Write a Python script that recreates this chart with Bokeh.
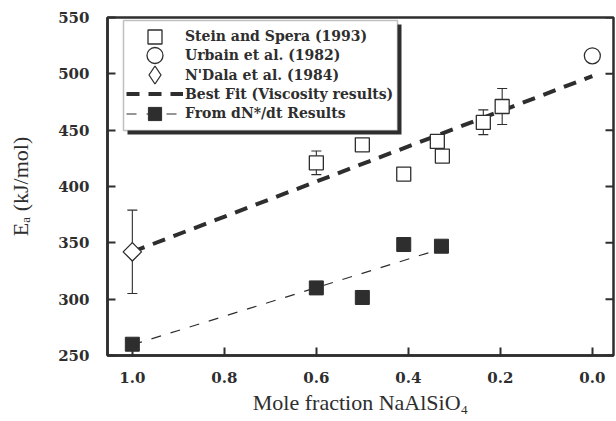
import numpy as np
from bokeh.plotting import figure
from bokeh.models import (Range1d, FixedTicker, Legend, LegendItem,
                          ColumnDataSource, Whisker, TeeHead, BoxAnnotation,
                          PrintfTickFormatter)
from bokeh.embed import file_html
from bokeh.resources import INLINE

# --- data -------------------------------------------------------------------
# Stein and Spera (1993): viscosity activation energies (kJ/mol)
stein_x = [0.60, 0.50, 0.41, 0.337, 0.326, 0.237, 0.196]
stein_y = [421, 437, 411, 440, 427, 457, 471]
stein_err = [10.5, 0, 0, 0, 0, 11, 16]

# Urbain et al. (1982)
urbain_x = [0.0]
urbain_y = [516]

# N'Dala et al. (1984)
ndala_x = [1.0]
ndala_y = [342]
ndala_err = [37]

# activation energies from dN*/dt results
dn_x = [1.0, 0.60, 0.50, 0.41, 0.328]
dn_y = [260, 310, 301.5, 348.5, 347]

# linear fits
fit_visc_x = [1.0, 0.0]
fit_visc_y = [342, 498]
fit_dn_x = [1.0, 0.33]
fit_dn_y = [259.5, 344.5]

x_ticks = [0.0, 0.2, 0.4, 0.6, 0.8, 1.0]
y_ticks = [250, 300, 350, 400, 450, 500, 550]

legend_labels = ["Stein and Spera (1993)", "Urbain et al. (1982)",
                 "N'Dala et al. (1984)", "Best Fit (Viscosity results)",
                 "From dN*/dt Results"]

INK = "#2e2e2e"
TICK_FONT = "DejaVu Serif"
LABEL_FONT = "Liberation Serif"

X_START, X_END = 1.054, -0.046

# --- figure -----------------------------------------------------------------
p = figure(width=616, height=421,
           x_range=Range1d(X_START, X_END), y_range=Range1d(250, 550),
           output_backend="svg", toolbar_location=None,
           min_border_left=107, min_border_right=3,
           min_border_top=17, min_border_bottom=66)
p.xgrid.visible = False
p.ygrid.visible = False
p.outline_line_color = INK
p.outline_line_width = 2.5
p.background_fill_color = "white"
p.border_fill_color = "white"

def style_axis(ax, ticks):
    ax.ticker = FixedTicker(ticks=ticks)
    ax.axis_line_color = INK
    ax.axis_line_width = 2.5
    ax.major_tick_line_color = INK
    ax.major_tick_line_width = 2
    ax.major_tick_in = 8
    ax.major_tick_out = 0
    ax.minor_tick_line_color = None
    ax.major_label_text_font = TICK_FONT
    ax.major_label_text_font_style = "bold"
    ax.major_label_text_font_size = "15px"
    ax.major_label_text_color = INK
    ax.axis_label_text_font = LABEL_FONT
    ax.axis_label_text_font_style = "normal"
    ax.axis_label_text_font_size = "22px"
    ax.axis_label_text_color = INK

xa = p.xaxis[0]
style_axis(xa, x_ticks)
xa.formatter = PrintfTickFormatter(format="%.1f")
xa.major_label_standoff = 16
xa.axis_label = "Mole fraction NaAlSiO\u2084"
xa.axis_label_standoff = 4

ya = p.yaxis[0]
style_axis(ya, y_ticks)
ya.major_label_standoff = 18
ya.axis_label = "E\u2090 (kJ/mol)"
ya.axis_label_standoff = 22

# inward tick marks along the right edge of the frame
p.ray(x=[X_END] * len(y_ticks), y=y_ticks, length=8, length_units="screen",
      angle=np.pi, line_color=INK, line_width=2)

# --- error bars ---------------------------------------------------------------
eb_x = [x for x, e in zip(stein_x, stein_err) if e > 0] + ndala_x
eb_y = [y for y, e in zip(stein_y, stein_err) if e > 0] + ndala_y
eb_e = [e for e in stein_err if e > 0] + ndala_err
err_src = ColumnDataSource(dict(
    base=eb_x,
    upper=[y + e for y, e in zip(eb_y, eb_e)],
    lower=[y - e for y, e in zip(eb_y, eb_e)],
))
p.add_layout(Whisker(source=err_src, base="base", upper="upper", lower="lower",
                     dimension="height", level="underlay",
                     line_color=INK, line_width=1.1,
                     upper_head=TeeHead(size=10, line_color=INK, line_width=1.1),
                     lower_head=TeeHead(size=10, line_color=INK, line_width=1.1)))

# --- fit lines ----------------------------------------------------------------
fit_r = p.line(fit_visc_x, fit_visc_y, line_color=INK, line_width=4,
               line_dash="13 9")
dn_line_r = p.line(fit_dn_x, fit_dn_y, line_color=INK, line_width=1.2,
                   line_dash="10 10")

# --- markers ------------------------------------------------------------------
stein_r = p.scatter(stein_x, stein_y, marker="square", size=14,
                    fill_color="white", line_color=INK, line_width=1.3)
urbain_r = p.scatter(urbain_x, urbain_y, marker="circle", size=16,
                     fill_color="white", line_color=INK, line_width=1.3)
ndala_r = p.scatter(ndala_x, ndala_y, marker="diamond", size=18,
                    fill_color="white", line_color=INK, line_width=1.3)
p.scatter(ndala_x, ndala_y, marker="square", size=13, angle=np.pi / 4,
          fill_color="white", line_color=INK, line_width=1.3)
dn_r = p.scatter(dn_x, dn_y, marker="square", size=14,
                 fill_color=INK, line_color=INK, line_width=1)

# --- legend panel: drop shadow, white box, then one row per entry -------------
def canvas_box(l, r, t, b, **kw):
    return BoxAnnotation(left=l, right=r, top=t, bottom=b,
                         left_units="canvas", right_units="canvas",
                         top_units="canvas", bottom_units="canvas",
                         level="annotation", **kw)

p.add_layout(canvas_box(127, 401, 24, 134, fill_color=INK, fill_alpha=1.0,
                        line_color=None))
p.add_layout(canvas_box(123, 397, 20, 130, fill_color="white", fill_alpha=1.0,
                        line_color=INK, line_width=1.5))

row_renderers = [[stein_r], [urbain_r], [ndala_r], [fit_r], [dn_line_r, dn_r]]
# glyph box heights set the legend marker sizes (0.4 x height)
row_glyph_h = [35, 40, 45, 35, 33]
ROW_PITCH = 19.25
FIRST_ROW_CENTER = 319.0  # frame-relative, measured from the bottom

for i, (lab, rends, gh) in enumerate(zip(legend_labels, row_renderers, row_glyph_h)):
    center = FIRST_ROW_CENTER - ROW_PITCH * i
    lg = Legend(items=[LegendItem(label=lab, renderers=rends)],
                location=(19, center - gh / 2), margin=0, padding=0,
                spacing=0, glyph_height=gh, glyph_width=57,
                label_standoff=2, label_height=16,
                label_text_font=TICK_FONT, label_text_font_style="bold",
                label_text_font_size="14px", label_text_color=INK,
                border_line_color=None, background_fill_alpha=0.0)
    p.add_layout(lg)

open("out.html", "w").write(file_html(p, INLINE))
